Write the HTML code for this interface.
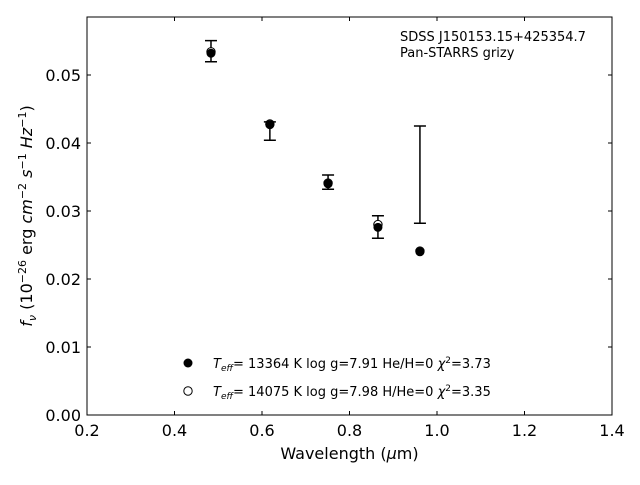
<!DOCTYPE html>
<html><head><meta charset="utf-8"><style>
body{margin:0;background:#fff}
svg text{font-family:"DejaVu Sans","Liberation Sans",sans-serif}
</style></head><body>
<svg id="c" width="640" height="480" xmlns="http://www.w3.org/2000/svg"></svg>
<script>
const wavelengths=[0.4834,0.618,0.751,0.865,0.961];
const obsFlux=[0.0535,0.04175,0.03425,0.02765,0.03535];
const obsErr=[0.00155,0.00135,0.00105,0.00165,0.00715];
const modelHe=[0.0532,0.0427,0.0340,0.0276,0.0240];
const modelH=[0.0534,0.0428,0.0341,0.0280,0.0241];
const xTicks=[0.2,0.4,0.6,0.8,1.0,1.2,1.4];
const xTickLabels=["0.2","0.4","0.6","0.8","1.0","1.2","1.4"];
const yTicks=[0,0.01,0.02,0.03,0.04,0.05];
const yTickLabels=["0.00","0.01","0.02","0.03","0.04","0.05"];
const L=87,R=612,T=17,B=415;
const X=v=>L+(v-0.2)/1.2*(R-L);
const Y=v=>B-v*6800;
const s=document.getElementById('c');
function el(t,a,txt){const e=document.createElementNS('http://www.w3.org/2000/svg',t);for(const k in a)e.setAttribute(k,a[k]);if(txt!==undefined)e.textContent=txt;s.appendChild(e);return e;}
let f=el('rect',{x:L,y:T,width:R-L,height:B-T,fill:'none',stroke:'#000','stroke-width':1});

xTicks.forEach((v,i)=>{
 let t=el('line',{x1:X(v),x2:X(v),y1:B,y2:B-4,stroke:'#000'});
 let t2=el('line',{x1:X(v),x2:X(v),y1:T,y2:T+4,stroke:'#000'});
 let l=el('text',{x:X(v),y:B+21,'font-size':16,'text-anchor':'middle'},xTickLabels[i]);
});
yTicks.forEach((v,i)=>{
 let t=el('line',{x1:L,x2:L+4,y1:Y(v),y2:Y(v),stroke:'#000'});
 let t2=el('line',{x1:R,x2:R-4,y1:Y(v),y2:Y(v),stroke:'#000'});
 let l=el('text',{x:L-6,y:Y(v)+6,'font-size':16,'text-anchor':'end'},yTickLabels[i]);
});
wavelengths.forEach((w,i)=>{
 const x=X(w),y1=Y(obsFlux[i]+obsErr[i]),y2=Y(obsFlux[i]-obsErr[i]);
 let g=el('path',{d:`M${x},${y1}V${y2}M${x-6},${y1}H${x+6}M${x-6},${y2}H${x+6}`,stroke:'#000','stroke-width':1.5,fill:'none'});
 
 let o=el('circle',{cx:x,cy:Y(modelH[i]),r:4.2,fill:'#fff',stroke:'#000','stroke-width':1});
 
 let c=el('circle',{cx:x,cy:Y(modelHe[i]),r:4.5,fill:'#000'});
 
});
let a=el('text',{x:400,y:41,'font-size':13},'SDSS J150153.15+425354.7');
let b=el('text',{x:400,y:57,'font-size':13},'Pan-STARRS grizy');
let c1=el('circle',{cx:188,cy:363,r:4.5,fill:'#000'});
let c2=el('circle',{cx:188,cy:391,r:4.2,fill:'#fff',stroke:'#000'});
const lg1=el('text',{x:213,y:368,'font-size':13});lg1.innerHTML='<tspan font-style="italic">T</tspan><tspan font-size="9" dy="3" font-style="italic">eff</tspan><tspan dy="-3">= 13364 K  log g=7.91  He/H=0  </tspan><tspan font-style="italic">χ</tspan><tspan font-size="9" dy="-5">2</tspan><tspan dy="5">=3.73</tspan>';

const lg2=el('text',{x:213,y:396,'font-size':13});lg2.innerHTML='<tspan font-style="italic">T</tspan><tspan font-size="9" dy="3" font-style="italic">eff</tspan><tspan dy="-3">= 14075 K  log g=7.98  H/He=0  </tspan><tspan font-style="italic">χ</tspan><tspan font-size="9" dy="-5">2</tspan><tspan dy="5">=3.35</tspan>';

const xt=el('text',{x:(L+R)/2,y:459,'font-size':16,'text-anchor':'middle'});xt.innerHTML='Wavelength (<tspan font-style="italic">μ</tspan>m)';

const yt=el('text',{x:0,y:0,'font-size':16,'text-anchor':'middle',transform:`translate(32,216) rotate(-90)`});
yt.innerHTML='<tspan font-style="italic">f</tspan><tspan font-size="11" dy="4" font-style="italic">ν</tspan><tspan dy="-4"> (10</tspan><tspan font-size="11" dy="-6">−26</tspan><tspan dy="6"> erg </tspan><tspan font-style="italic">cm</tspan><tspan font-size="11" dy="-6">−2</tspan><tspan dy="6"> </tspan><tspan font-style="italic">s</tspan><tspan font-size="11" dy="-6">−1</tspan><tspan dy="6"> </tspan><tspan font-style="italic">Hz</tspan><tspan font-size="11" dy="-6">−1</tspan><tspan dy="6">)</tspan>';

</script>
</body></html>
